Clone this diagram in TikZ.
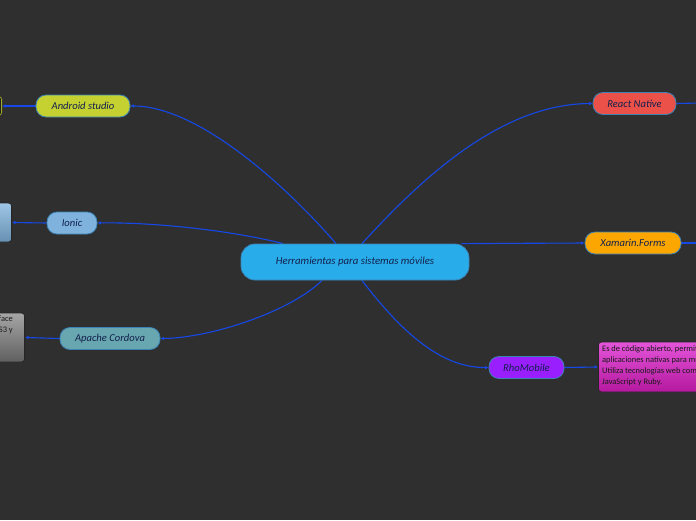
\documentclass[tikz,border=0pt]{standalone}
\usepackage{fontspec}
\setmainfont{Carlito}
\usetikzlibrary{arrows.meta,positioning,backgrounds}

\definecolor{bgdark}{HTML}{2F2F2F}
\definecolor{linkblue}{HTML}{1548E6}
\definecolor{inkdark}{HTML}{13204D}
\definecolor{rimblue}{HTML}{3B82B5}
\definecolor{rootc}{HTML}{29ADEA}
\definecolor{androidc}{HTML}{C5D131}
\definecolor{ionicc}{HTML}{7FB3DD}
\definecolor{cordovac}{HTML}{68A7B0}
\definecolor{reactc}{HTML}{EB5148}
\definecolor{xamarinc}{HTML}{FCA601}
\definecolor{rhoc}{HTML}{9A1FFF}
\definecolor{rhotop}{HTML}{E455DA}
\definecolor{rhobottom}{HTML}{B4189E}

\begin{document}
\begin{tikzpicture}[
      x=1pt, y=-1pt,
      root/.style={draw=rimblue,line width=0.8pt,fill=rootc,rounded corners=14pt,
        minimum width=228pt,minimum height=36pt,font=\fontsize{10.8}{13}\selectfont\itshape,text=inkdark},
      topic/.style={draw=rimblue,line width=0.8pt,fill=#1,rounded corners=10pt,
        minimum height=22pt,font=\fontsize{10.6}{12}\selectfont\itshape,text=inkdark},
      note/.style={draw=black!85,line width=0.8pt,rounded corners=3pt},
      notetext/.style={font=\fontsize{8.4}{11}\selectfont,text=black!90,inner sep=0pt},
      link/.style={linkblue,line width=1.1pt},
      tip/.style={link,-{Latex[length=3.5pt,width=3.5pt]}},
    ]
    \clip (0,0) rectangle (696,520);
    \useasboundingbox (0,0) rectangle (696,520);

    % main topic
    \node[root] (root) at (355,262) {Herramientas para sistemas móviles};

    % left branches
    \node[topic=androidc,minimum width=94pt] (android) at (83,106) {Android studio};
    \node[topic=ionicc,minimum width=50pt] (ionic) at (72,223) {Ionic};
    \node[topic=cordovac,minimum width=100pt] (cordova) at (110,338.5) {Apache Cordova};

    % right branches
    \node[topic=reactc,minimum width=83pt] (react) at (634.5,103.5) {React Native};
    \node[topic=xamarinc,minimum width=96pt] (xamarin) at (633,243) {Xamarin.Forms};
    \node[topic=rhoc,minimum width=75pt] (rho) at (526.5,367.5) {RhoMobile};

    % notes (cut by the edge)
    \node[note,fill=black!88,draw=androidc!80!black,minimum width=90pt,minimum height=19pt,
      anchor=east] (androidnote) at (2,106) {};
    \node[note,top color=ionicc!75!white,bottom color=ionicc!80!black,minimum width=120pt,
      minimum height=39pt,anchor=east] (ionicnote) at (12,222.5) {};
    \node[note,top color=gray!70!white,bottom color=gray!75!black,minimum width=130pt,
      minimum height=49pt,anchor=east] (cordovanote) at (25,337.5) {};
    \node[notetext,anchor=north east,align=right] (cordovatext) at (13,315)
      {Framework de código abierto que ofrece una interface\\para crear apps con HTML5, CSS3 y};
    \node[note,top color=rhotop,bottom color=rhobottom,minimum width=150pt,
      minimum height=50pt,anchor=west] (rhonote) at (598,367) {};
    \node[notetext,anchor=north west,align=left] (rhotext) at (602,345)
      { Es de código abierto, permite crear\\aplicaciones nativas para múltiples plataformas.\\
        Utiliza tecnologías web como HTML5 y CSS3,\\JavaScript y Ruby.};

    \coordinate (reactout) at (700,103);
    \coordinate (xamarinout) at (700,243);

    \begin{scope}[on background layer]
      \fill[bgdark] (0,0) rectangle (696,520);
      % branches from the main topic
      \draw[tip] ([xshift=-19pt]root.north) .. controls (290,190) and (200,106) .. (android.east);
      \draw[tip] ([xshift=-72pt]root.north) .. controls (230,230) and (150,222) .. (ionic.east);
      \draw[tip] ([xshift=-33pt]root.south) .. controls (290,312) and (210,338) .. (cordova.east);
      \draw[tip] ([xshift=7pt]root.north) .. controls (420,180) and (500,104) .. (react.west);
      \draw[tip] ([xshift=-8pt]root.north east) -- (xamarin.west);
      \draw[tip] ([xshift=7pt]root.south) .. controls (400,330) and (440,368) .. (rho.west);
      % notes
      \draw[tip] (android.west) -- (androidnote.east);
      \draw[tip] (ionic.west) -- (ionicnote.east);
      \draw[tip] (cordova.west) -- (cordovanote.east);
      \draw[tip] (rho.east) -- (rhonote.west);
      \draw[link] (react.east) -- (reactout);
      \draw[link] (xamarin.east) -- (xamarinout);
    \end{scope}
  \end{tikzpicture}
\end{document}
